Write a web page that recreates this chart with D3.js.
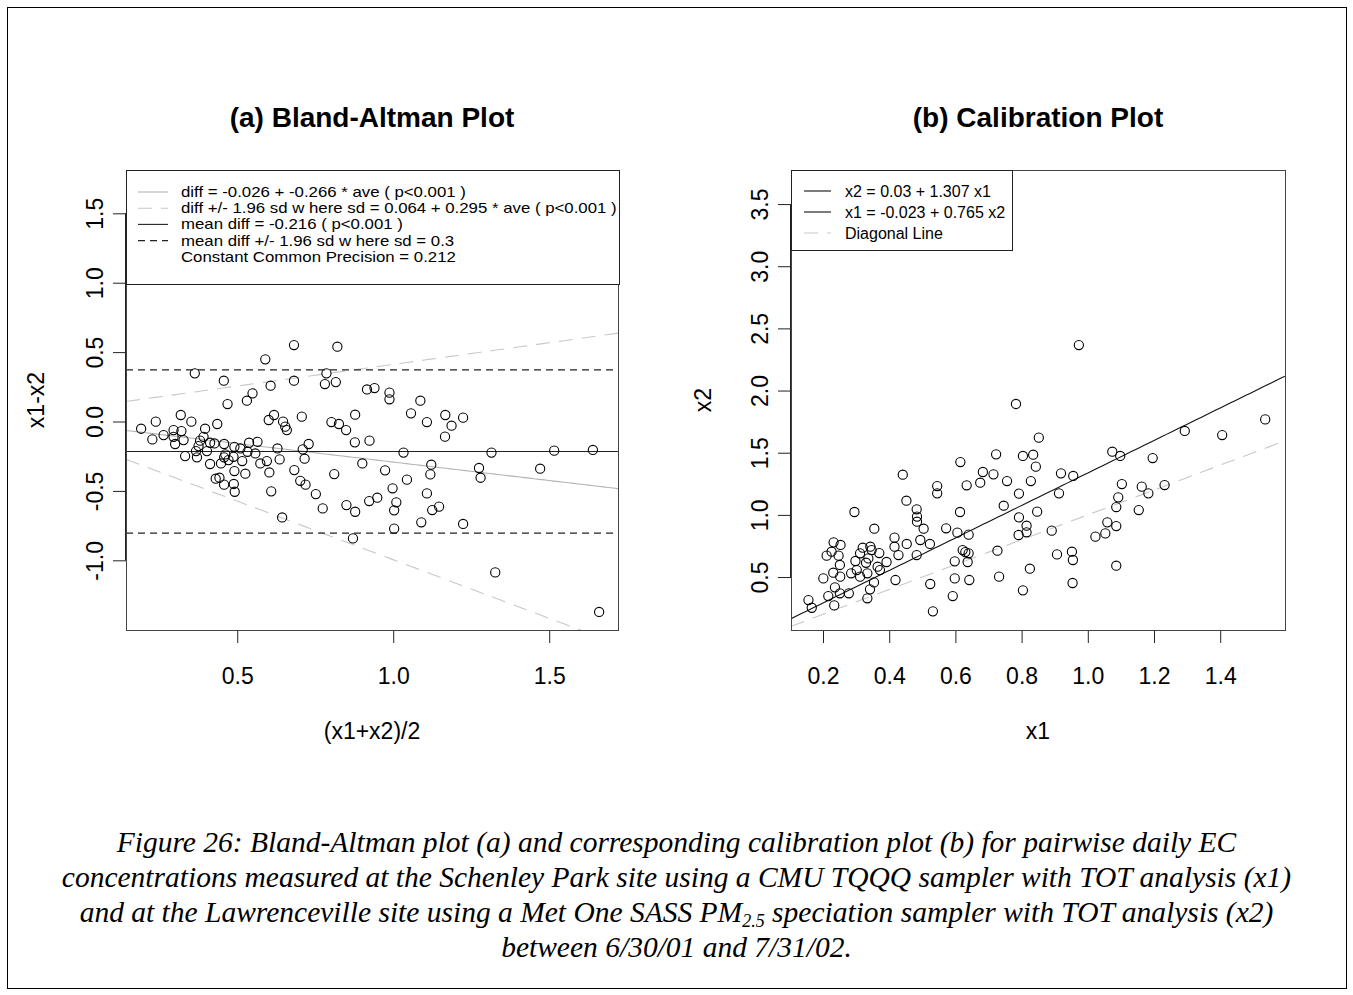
<!DOCTYPE html>
<html>
<head>
<meta charset="utf-8">
<script src="https://cdn.jsdelivr.net/npm/d3@7"></script>
<style>
  body { margin: 0; background: #fff; }
  svg { display: block; }
</style>
</head>
<body>
<script>
// Bland-Altman points: average (x1+x2)/2 and difference x1-x2
const baAve = [0.682,0.821,0.590,0.364,0.786,0.457,0.682,0.607,0.781,0.816,0.549,0.531,0.469,0.916,0.940,
  0.319,0.239,0.353,0.436,0.192,0.618,0.601,0.647,0.654,0.659,0.707,0.802,0.826,0.849,0.878,
  0.264,0.296,0.321,0.296,0.228,0.397,0.392,0.328,0.301,0.381,0.413,0.376,0.458,0.491,0.538,
  0.565,0.510,0.533,0.558,0.629,0.710,0.729,0.877,0.924,0.333,0.371,0.368,0.403,0.427,0.462,
  0.488,0.458,0.516,0.413,0.448,0.472,0.574,0.595,0.636,0.716,0.901,0.491,0.526,0.603,0.683,
  0.431,0.443,0.458,0.489,0.492,0.609,0.702,0.719,0.811,0.752,0.774,0.850,0.878,0.923,0.949,
  0.644,0.871,
  0.988,0.988,1.087,1.057,1.108,1.167,1.224,1.187,1.166,1.033,1.315,1.516,1.640,1.122,1.119,
  0.974,1.044,1.275,1.280,1.471,0.998,1.010,1.003,1.108,1.147,1.125,1.090,1.003,1.224,1.327,1.660];
const baDiff = [0.551,0.539,0.448,0.347,0.347,0.294,0.294,0.258,0.270,0.284,0.203,0.150,0.126,0.231,0.241,
  0.047,-0.001,-0.001,-0.018,-0.052,0.047,0.011,-0.001,-0.037,-0.062,0.035,-0.004,-0.018,-0.062,0.049,
  -0.098,-0.062,-0.069,-0.110,-0.129,-0.052,-0.110,-0.134,-0.162,-0.138,-0.153,-0.177,-0.162,-0.182,-0.153,
  -0.146,-0.194,-0.218,-0.230,-0.194,-0.201,-0.162,-0.150,-0.138,-0.249,-0.258,-0.213,-0.213,-0.158,-0.237,
  -0.254,-0.258,-0.285,-0.306,-0.302,-0.278,-0.302,-0.285,-0.273,-0.268,-0.302,-0.357,-0.376,-0.367,-0.350,
  -0.412,-0.405,-0.455,-0.450,-0.506,-0.503,-0.427,-0.455,-0.379,-0.523,-0.626,-0.602,-0.650,-0.573,-0.549,
  -0.691,-0.842,
  0.208,0.160,0.150,0.059,-0.004,0.047,0.028,-0.030,-0.109,-0.224,-0.224,-0.210,-0.205,-0.311,-0.381,
  -0.352,-0.419,-0.335,-0.405,-0.340,-0.481,-0.582,-0.640,-0.518,-0.613,-0.638,-0.726,-0.772,-0.738,-1.087,-1.372];

// Calibration points: x1 vs x2
const calX1 = [0.783,0.852,0.723,0.804,0.835,0.843,0.615,0.919,0.956,0.683,0.715,0.675,0.634,0.756,0.828,
  0.792,0.913,0.441,0.545,0.545,0.452,0.746,0.483,0.484,0.484,0.504,0.614,0.847,0.792,0.815,
  0.815,0.791,0.891,0.295,0.355,0.572,0.606,0.640,0.416,0.494,0.523,0.453,0.416,0.343,0.320,
  0.232,0.253,0.226,0.211,0.247,0.622,0.640,0.630,0.727,0.907,0.952,0.955,0.483,0.428,0.392,
  0.370,0.312,0.337,0.365,0.298,0.330,0.302,0.334,0.372,0.354,0.285,0.251,0.231,0.201,0.252,
  0.598,0.637,0.825,0.419,0.524,0.598,0.642,0.732,0.954,0.804,0.592,0.342,0.334,0.236,0.251,
  0.278,0.216,0.234,0.156,0.166,0.532,0.312,0.347,
  0.973,1.536,1.293,1.406,1.074,1.098,1.196,1.103,1.163,1.183,1.232,1.092,1.086,1.154,1.059,
  1.086,1.053,1.023,1.086];
const calX2 = [1.892,1.621,1.487,1.474,1.484,1.388,1.425,1.334,1.313,1.345,1.326,1.259,1.238,1.272,1.272,
  1.171,1.173,1.323,1.232,1.173,1.114,1.074,1.045,0.986,0.945,0.889,1.023,1.026,0.980,0.913,
  0.860,0.838,0.873,1.023,0.889,0.892,0.857,0.841,0.817,0.798,0.766,0.766,0.744,0.744,0.736,
  0.779,0.758,0.704,0.672,0.672,0.717,0.691,0.701,0.712,0.682,0.704,0.637,0.677,0.677,0.621,
  0.693,0.691,0.650,0.583,0.629,0.615,0.556,0.530,0.556,0.457,0.530,0.597,0.535,0.489,0.503,
  0.626,0.621,0.567,0.476,0.444,0.489,0.476,0.503,0.452,0.393,0.347,0.401,0.329,0.417,0.369,
  0.369,0.347,0.272,0.315,0.253,0.224,0.503,0.717,
  2.366,1.768,1.675,1.642,1.508,1.474,1.457,1.248,1.227,1.173,1.240,1.141,1.063,1.039,0.940,
  0.910,0.851,0.825,0.591];

// tick values
const baTicksX = [0.5, 1.0, 1.5];
const baTicksY = [-1.0, -0.5, 0.0, 0.5, 1.0, 1.5];
const calTicksX = [0.2, 0.4, 0.6, 0.8, 1.0, 1.2, 1.4];
const calTicksY = [0.5, 1.0, 1.5, 2.0, 2.5, 3.0, 3.5];

// fitted lines
const regInt = -0.026, regSlope = -0.266;   // diff = a + b * ave
const sdInt = 0.064, sdSlope = 0.295;       // sd = a + b * ave
const meanDiff = -0.216, sdConst = 0.3;
const calInt = 0.03, calSlope = 1.307;      // x2 = a + b * x1

const baLegend = [
  "diff = -0.026 + -0.266 * ave ( p<0.001 )",
  "diff +/- 1.96 sd w here sd = 0.064 + 0.295 * ave ( p<0.001 )",
  "mean diff = -0.216 ( p<0.001 )",
  "mean diff +/- 1.96 sd w here sd = 0.3",
  "Constant Common Precision = 0.212"
];
const calLegend = ["x2 = 0.03 + 1.307 x1", "x1 = -0.023 + 0.765 x2", "Diagonal Line"];

const W = 1353, H = 995;
const FONT = "'Liberation Sans', Arial, Helvetica, sans-serif";
const GRAY = "#b4b4b4", LIGHT = "#c8c8c8";

const svg = d3.select("body").append("svg").attr("width", W).attr("height", H);
svg.append("rect").attr("width", W).attr("height", H).attr("fill", "#fff");
svg.append("rect").attr("x", 7.5).attr("y", 7.5).attr("width", 1339).attr("height", 981)
  .attr("fill", "none").attr("stroke", "#000");

const fmt = d => d.toFixed(1);

// one R-style panel
function panel(opt) {
  const g = svg.append("g").attr("transform", `translate(${opt.left},${opt.top})`);
  const w = opt.width, h = opt.height;
  const x = d3.scaleLinear().domain(opt.xDomain).range([0, w]);
  const y = d3.scaleLinear().domain(opt.yDomain).range([h, 0]);

  g.append("clipPath").attr("id", opt.id).append("rect").attr("width", w).attr("height", h);
  const plot = g.append("g").attr("clip-path", `url(#${opt.id})`);

  // x axis
  const ax = g.append("g").attr("transform", `translate(0,${h})`)
    .call(d3.axisBottom(x).tickValues(opt.xTicks).tickFormat(fmt).tickSize(13).tickPadding(25).tickSizeOuter(0));
  ax.select(".domain").attr("d", `M${x(opt.xTicks[0])},0.5H${x(opt.xTicks[opt.xTicks.length - 1])}`);
  // y axis, labels parallel to the axis like R
  const ay = g.append("g")
    .call(d3.axisLeft(y).tickValues(opt.yTicks).tickFormat(fmt).tickSize(13).tickSizeOuter(0));
  ay.select(".domain").attr("d", `M-0.5,${y(opt.yTicks[0])}V${y(opt.yTicks[opt.yTicks.length - 1])}`);
  ay.selectAll(".tick text").attr("x", 0).attr("dy", "0.36em").attr("text-anchor", "middle")
    .attr("transform", "translate(-31,0) rotate(-90)");
  [ax, ay].forEach(a => {
    a.attr("font-family", FONT).attr("font-size", 23);
    a.selectAll("line,path").attr("stroke", "#222");
    a.selectAll("text").attr("fill", "#000");
  });

  // box
  g.append("rect").attr("x", 0.5).attr("y", 0.5).attr("width", w).attr("height", h)
    .attr("fill", "none").attr("stroke", "#444");

  // titles
  g.append("text").attr("x", w / 2).attr("y", 117 - opt.top).attr("dy", "0.35em")
    .attr("text-anchor", "middle").attr("font-family", FONT).attr("font-size", 28)
    .attr("font-weight", "bold").text(opt.title);
  g.append("text").attr("x", w / 2).attr("y", 731 - opt.top).attr("dy", "0.35em")
    .attr("text-anchor", "middle").attr("font-family", FONT).attr("font-size", 23).text(opt.xLabel);
  g.append("text").attr("transform", `translate(${-opt.yLabelOff},${h / 2}) rotate(-90)`)
    .attr("dy", "0.35em").attr("text-anchor", "middle").attr("font-family", FONT)
    .attr("font-size", 23).text(opt.yLabel);

  return { g, plot, x, y, w, h };
}

function fnLine(p, f, stroke, dash) {
  const xs = d3.range(0, 101).map(i => p.x.domain()[0] + (p.x.domain()[1] - p.x.domain()[0]) * i / 100);
  p.plot.append("path")
    .attr("d", d3.line().x(d => p.x(d)).y(d => p.y(f(d)))(xs))
    .attr("fill", "none").attr("stroke", stroke).attr("stroke-width", 1.1)
    .attr("stroke-dasharray", dash || null);
}

function points(p, xs, ys) {
  p.plot.selectAll("circle.pt").data(xs).enter().append("circle")
    .attr("class", "pt")
    .attr("cx", (d, i) => p.x(d)).attr("cy", (d, i) => p.y(ys[i])).attr("r", 4.6)
    .attr("fill", "none").attr("stroke", "#000").attr("stroke-width", 1.1);
}

function legend(p, items, opt) {
  const lg = p.g.append("g");
  lg.append("rect").attr("x", 0.5).attr("y", 0.5).attr("width", opt.width).attr("height", opt.height)
    .attr("fill", "#fff").attr("stroke", "#222");
  items.forEach((it, i) => {
    const yy = opt.y0 + i * opt.step;
    if (it.stroke) {
      lg.append("line").attr("x1", opt.lx0).attr("x2", opt.lx1).attr("y1", yy).attr("y2", yy)
        .attr("stroke", it.stroke).attr("stroke-width", 1.1).attr("stroke-dasharray", it.dash || null);
    }
    lg.append("text").attr("transform", `translate(${opt.tx},${yy}) scale(${opt.sx || 1},1)`)
      .attr("dy", "0.35em")
      .attr("font-family", FONT).attr("font-size", opt.fontSize).attr("fill", "#000").text(it.label);
  });
}

// (a) Bland-Altman
const pa = panel({
  id: "clipA", left: 126, top: 170, width: 492, height: 460,
  xDomain: [0.1435, 1.7205], yDomain: [-1.502, 1.812],
  xTicks: baTicksX, yTicks: baTicksY,
  title: "(a) Bland-Altman Plot", xLabel: "(x1+x2)/2", yLabel: "x1-x2", yLabelOff: 90
});
fnLine(pa, a => regInt + regSlope * a, GRAY);
fnLine(pa, a => regInt + regSlope * a + 1.96 * (sdInt + sdSlope * a), LIGHT, "14,9");
fnLine(pa, a => regInt + regSlope * a - 1.96 * (sdInt + sdSlope * a), LIGHT, "14,9");
fnLine(pa, a => meanDiff, "#222");
fnLine(pa, a => meanDiff + 1.96 * sdConst, "#222", "7,5");
fnLine(pa, a => meanDiff - 1.96 * sdConst, "#222", "7,5");
points(pa, baAve, baDiff);
legend(pa, [
  { label: baLegend[0], stroke: GRAY },
  { label: baLegend[1], stroke: LIGHT, dash: "14,9" },
  { label: baLegend[2], stroke: "#222" },
  { label: baLegend[3], stroke: "#222", dash: "7,5" },
  { label: baLegend[4] }
], { width: 493, height: 114, y0: 22, step: 16.2, lx0: 12, lx1: 42, tx: 55, fontSize: 14, sx: 1.2 });

// (b) Calibration
const pb = panel({
  id: "clipB", left: 791, top: 170, width: 494, height: 460,
  xDomain: [0.1033, 1.5958], yDomain: [0.074, 3.774],
  xTicks: calTicksX, yTicks: calTicksY,
  title: "(b) Calibration Plot", xLabel: "x1", yLabel: "x2", yLabelOff: 88
});
fnLine(pb, v => calInt + calSlope * v, "#111");
fnLine(pb, v => v, LIGHT, "14,9");
points(pb, calX1, calX2);
legend(pb, [
  { label: calLegend[0], stroke: "#111" },
  { label: calLegend[1], stroke: "#111" },
  { label: calLegend[2], stroke: LIGHT, dash: "14,9" }
], { width: 221, height: 80, y0: 21, step: 21, lx0: 13, lx1: 40, tx: 54, fontSize: 16 });

// caption
const capLines = [
  ["Figure 26: Bland-Altman plot (a) and corresponding calibration plot (b) for pairwise daily EC"],
  ["concentrations measured at the Schenley Park site using a CMU TQQQ sampler with TOT analysis (x1)"],
  ["and at the Lawrenceville site using a Met One SASS PM", "2.5", " speciation sampler with TOT analysis (x2)"],
  ["between 6/30/01 and 7/31/02."]
];
const cap = svg.append("text").attr("text-anchor", "middle")
  .attr("font-family", "'Liberation Serif', 'Times New Roman', serif")
  .attr("font-style", "italic").attr("font-size", 29.5).attr("fill", "#000");
capLines.forEach((parts, i) => {
  const line = cap.append("tspan").attr("x", 676.5).attr("y", 852 + i * 35);
  parts.forEach((s, j) => {
    const t = line.append("tspan").text(s);
    if (j === 1) t.attr("font-size", 18).attr("dy", 4.5);
    if (j === 2) t.attr("dy", -4.5);
  });
});
</script>
</body>
</html>
